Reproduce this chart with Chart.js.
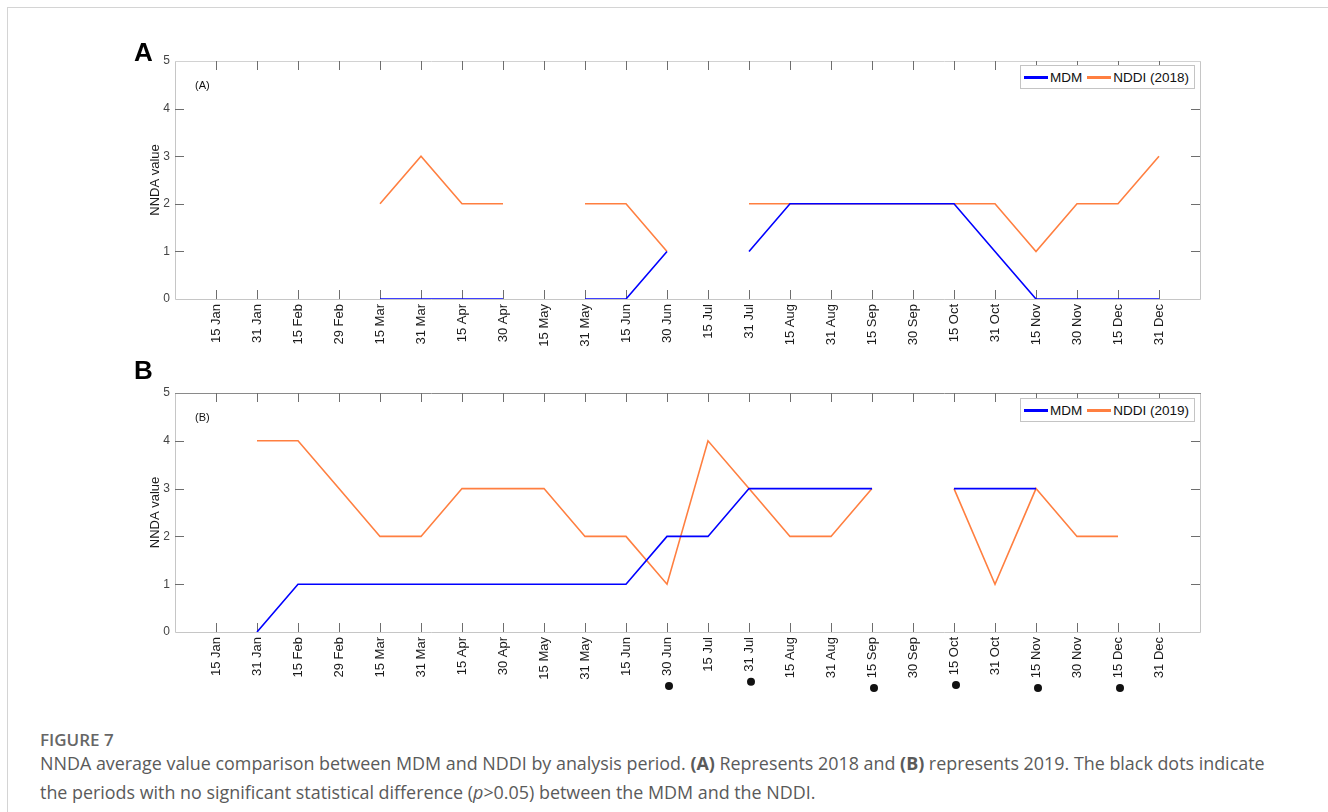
<!DOCTYPE html>
<html>
<head>
<meta charset="utf-8">
<script src="https://cdn.jsdelivr.net/npm/chart.js@4.4.0/dist/chart.umd.min.js"></script>
<style>
    body { margin: 0; background: #fff; }
    #page { position: relative; width: 1328px; height: 812px; overflow: hidden; background: #fff; }
    #frame { position: absolute; left: 7px; top: 7px; right: -2px; bottom: -2px; border-top: 1px solid #d4d4d4; border-left: 1px solid #d4d4d4; }
    .panel { position: absolute; left: 0; width: 1328px; }
    .letter { position: absolute; left: 134px; font: bold 26px "Liberation Sans", Arial, sans-serif; line-height: 26px; color: #000; }
    .tag { position: absolute; left: 195px; font: 11px "Liberation Sans", Arial, sans-serif; line-height: 11px; color: #111; }
    .legend { position: absolute; left: 1020px; width: 173px; height: 22px; border: 1px solid #c4c4c4; background: #fff;
              display: flex; align-items: center; font: 13.5px "Liberation Sans", Arial, sans-serif; color: #111; }
    .legend .sw { display: inline-block; width: 24px; height: 3px; margin: 0 2px 0 3px; }
    .caption { position: absolute; left: 40px; font-family: "Open Sans", sans-serif; color: #5a5a5a; white-space: nowrap; line-height: 24px; }
    #figLabel { top: 728px; font-size: 17px; font-weight: 600; color: #666; }
    .capLine { font-size: 17.9px; }
</style>
</head>
<body>
<div id="page">
    <div id="frame"></div>

    <div class="panel" style="top:0;height:350px;"><canvas id="chartA"></canvas></div>
    <div class="panel" style="top:330px;height:380px;"><canvas id="chartB"></canvas></div>

    <div class="letter" style="top:39px;">A</div>
    <div class="letter" style="top:357px;">B</div>
    <div class="tag" style="top:80px;">(A)</div>
    <div class="tag" style="top:412px;">(B)</div>

    <div class="legend" style="top:65px;">
        <span class="sw" style="background:#0000ff"></span>MDM
        <span class="sw" style="background:#ff7f40;margin-left:5px"></span>NDDI (2018)
    </div>
    <div class="legend" style="top:398px;">
        <span class="sw" style="background:#0000ff"></span>MDM
        <span class="sw" style="background:#ff7f40;margin-left:5px"></span>NDDI (2019)
    </div>

    <div class="caption" id="figLabel">FIGURE 7</div>
    <div class="caption capLine" style="top:751px;">NNDA average value comparison between MDM and NDDI by analysis period. <b>(A)</b> Represents 2018 and <b>(B)</b> represents 2019. The black dots indicate</div>
    <div class="caption capLine" style="top:780px;">the periods with no significant statistical difference (<i>p</i>&gt;0.05) between the MDM and the NDDI.</div>
</div>

<script>
// Analysis periods (x axis)
const periods = ['15 Jan', '31 Jan', '15 Feb', '29 Feb', '15 Mar', '31 Mar', '15 Apr', '30 Apr',
    '15 May', '31 May', '15 Jun', '30 Jun', '15 Jul', '31 Jul', '15 Aug', '31 Aug',
    '15 Sep', '30 Sep', '15 Oct', '31 Oct', '15 Nov', '30 Nov', '15 Dec', '31 Dec'];

// 2018 (panel A)
const mdm2018  = [null, null, null, null, 0, 0, 0, 0, null, 0, 0, 1, null, 1, 2, 2, 2, 2, 2, 1, 0, 0, 0, 0];
const nddi2018 = [null, null, null, null, 2, 3, 2, 2, null, 2, 2, 1, null, 2, 2, 2, 2, 2, 2, 2, 1, 2, 2, 3];

// 2019 (panel B)
const mdm2019  = [null, 0, 1, 1, 1, 1, 1, 1, 1, 1, 1, 2, 2, 3, 3, 3, 3, null, 3, 3, 3, null, null, null];
const nddi2019 = [null, 4, 4, 3, 2, 2, 3, 3, 3, 2, 2, 1, 4, 3, 2, 2, 3, null, 3, 1, 3, 2, 2, null];

// periods with no significant difference (black dots under panel B)
const sigPeriods = ['30 Jun', '31 Jul', '15 Sep', '15 Oct', '15 Nov', '15 Dec'];
const sigDotLevels = [-1.13, -1.04, -1.17, -1.11, -1.17, -1.17];

const yTicks = [0, 1, 2, 3, 4, 5];

const BLUE = '#0000ff';
const ORANGE = '#ff7f40';
const FONT = '"Liberation Sans", Arial, sans-serif';

function toPoints(values) {
    return values.map((v, i) => ({ x: i, y: v }));
}

// MATLAB style box with inward tick marks
const boxTicks = {
    id: 'boxTicks',
    beforeDatasetsDraw(chart, args, opts) {
        const ctx = chart.ctx;
        const area = chart.chartArea;
        const xs = chart.scales.x;
        const ys = chart.scales.y;
        const len = 9;
        ctx.save();
        ctx.lineWidth = 1;
        // frame
        ctx.strokeStyle = opts.frameColor;
        ctx.beginPath();
        ctx.moveTo(area.left + 0.5, area.top + 0.5);
        ctx.lineTo(area.left + 0.5, area.bottom + 0.5);
        ctx.lineTo(area.right + 0.5, area.bottom + 0.5);
        ctx.lineTo(area.right + 0.5, area.top + 0.5);
        ctx.stroke();
        ctx.strokeStyle = opts.topColor;
        ctx.beginPath();
        ctx.moveTo(area.left, area.top + 0.5);
        ctx.lineTo(area.right + 1, area.top + 0.5);
        ctx.stroke();
        // tick marks
        ctx.strokeStyle = opts.tickColor;
        ctx.beginPath();
        periods.forEach((p, i) => {
            const px = Math.round(xs.getPixelForValue(i)) + 0.5;
            ctx.moveTo(px, area.bottom);
            ctx.lineTo(px, area.bottom - len);
            ctx.moveTo(px, area.top);
            ctx.lineTo(px, area.top + len);
        });
        yTicks.slice(1, -1).forEach(v => {
            const py = Math.round(ys.getPixelForValue(v)) + 0.5;
            ctx.moveTo(area.left, py);
            ctx.lineTo(area.left + len, py);
            ctx.moveTo(area.right, py);
            ctx.lineTo(area.right - len, py);
        });
        ctx.stroke();
        ctx.restore();
    }
};

// black dots below the x labels (outside the chart area, so drawn here)
const sigMarks = {
    id: 'sigMarks',
    afterDraw(chart, args, opts) {
        if (!opts.show) return;
        const ctx = chart.ctx;
        const xs = chart.scales.x;
        const ys = chart.scales.y;
        ctx.save();
        ctx.fillStyle = '#111';
        sigPeriods.forEach((p, i) => {
            const px = xs.getPixelForValue(periods.indexOf(p)) + 2;
            const py = ys.getPixelForValue(sigDotLevels[i]);
            ctx.beginPath();
            ctx.arc(px, py, 4, 0, Math.PI * 2);
            ctx.fill();
        });
        ctx.restore();
    }
};

function makeChart(canvasId, mdm, nddi, padTop, padBottom, topColor, showDots) {
    const datasets = [
        {
            label: 'MDM',
            data: toPoints(mdm),
            borderColor: BLUE,
            borderWidth: 1.6,
            pointRadius: 0,
            spanGaps: false,
            order: 1
        },
        {
            label: 'NDDI',
            data: toPoints(nddi),
            borderColor: ORANGE,
            borderWidth: 1.6,
            pointRadius: 0,
            spanGaps: false,
            order: 2
        }
    ];

    return new Chart(document.getElementById(canvasId), {
        type: 'line',
        data: { datasets },
        options: {
            responsive: true,
            maintainAspectRatio: false,
            animation: false,
            events: [],
            layout: { padding: { left: 135, right: 128, top: padTop, bottom: padBottom } },
            plugins: {
                legend: { display: false },
                tooltip: { enabled: false },
                boxTicks: { frameColor: '#c6c6c6', topColor: topColor, tickColor: '#6e6e6e' },
                sigMarks: { show: showDots }
            },
            scales: {
                x: {
                    type: 'linear',
                    min: -1,
                    max: periods.length,
                    afterBuildTicks: (scale) => {
                        scale.ticks = periods.map((p, i) => ({ value: i }));
                    },
                    afterFit: (scale) => { scale.height = 50; },
                    grid: { display: false, drawTicks: false },
                    border: { display: false },
                    ticks: {
                        autoSkip: false,
                        minRotation: 90,
                        maxRotation: 90,
                        padding: 5,
                        color: '#1a1a1a',
                        font: { family: FONT, size: 13 },
                        callback: (v) => periods[v] || ''
                    }
                },
                y: {
                    min: 0,
                    max: 5,
                    afterBuildTicks: (scale) => {
                        scale.ticks = yTicks.map(v => ({ value: v }));
                    },
                    afterFit: (scale) => { scale.width = 40; },
                    grid: { display: false, drawTicks: false },
                    border: { display: false },
                    ticks: {
                        padding: 5,
                        color: '#444',
                        font: { family: FONT, size: 12 }
                    },
                    title: {
                        display: true,
                        text: 'NNDA value',
                        color: '#1a1a1a',
                        padding: { top: 13, bottom: 0 },
                        font: { family: FONT, size: 13 }
                    }
                }
            }
        },
        plugins: [boxTicks, sigMarks]
    });
}

makeChart('chartA', mdm2018, nddi2018, 61, 1, '#d2d2d2', false);
makeChart('chartB', mdm2019, nddi2019, 63, 28, '#8a8a8a', true);
</script>
</body>
</html>
